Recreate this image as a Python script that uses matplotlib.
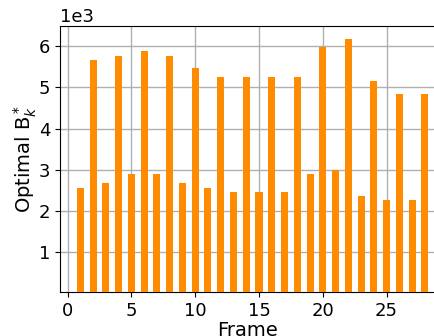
import matplotlib
matplotlib.use("Agg")
import matplotlib.pyplot as plt
import numpy as np

# frame numbers and optimal B_k* values
frames = list(range(1, 29))
optimal_b = [2570, 5660, 2690, 5760, 2890, 5880, 2890, 5760, 2690, 5460,
             2570, 5250, 2470, 5250, 2470, 5250, 2470, 5250, 2890, 5980,
             2990, 6170, 2370, 5150, 2270, 4830, 2270, 4830]

fig = plt.figure(figsize=(4.35, 3.36), dpi=100)
ax = fig.add_axes([0.138, 0.131, 0.862, 0.792])

ax.bar(frames, optimal_b, width=0.55, color='darkorange', zorder=3)
ax.grid(True, color='#b0b0b0', linewidth=1, zorder=0)

ax.set_xlim(-0.6, 28.8)
ax.set_ylim(40, 6490)
ax.set_xticks([0, 5, 10, 15, 20, 25])
ax.ticklabel_format(axis='y', style='sci', scilimits=(3, 3))
ax.yaxis.get_offset_text().set_fontsize(13)
ax.tick_params(labelsize=13)

ax.set_xlabel('Frame', fontsize=14, labelpad=1)
ax.set_ylabel('Optimal B$_k^*$', fontsize=14, labelpad=0)

fig.savefig('out.png', dpi=100)
